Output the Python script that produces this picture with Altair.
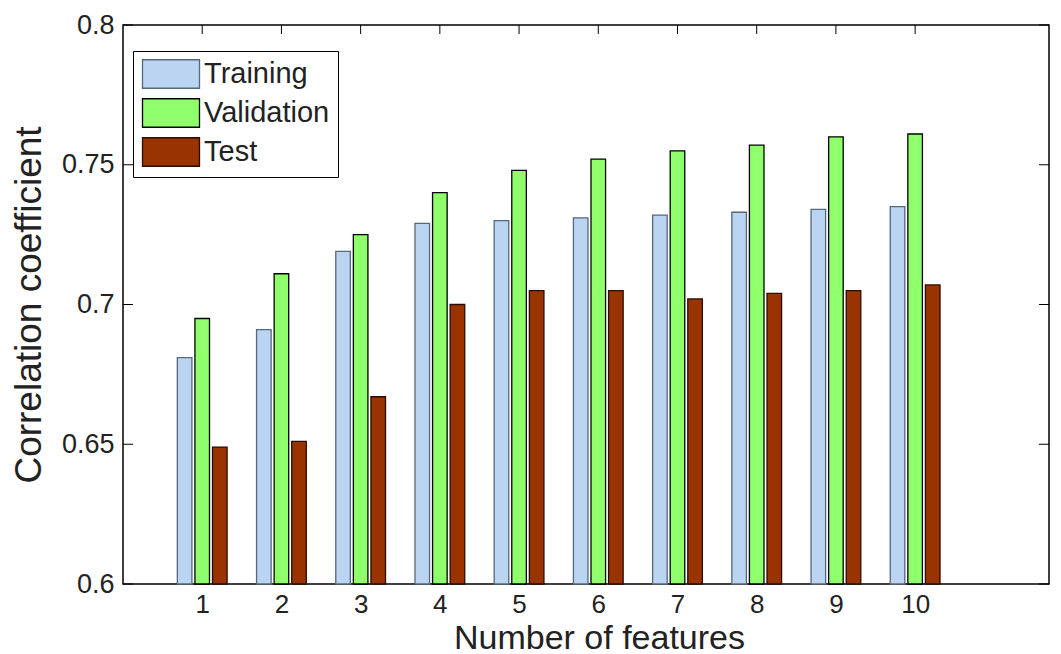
import altair as alt
import pandas as pd

features = list(range(1, 11))
training = [0.681, 0.691, 0.719, 0.729, 0.730, 0.731, 0.732, 0.733, 0.734, 0.735]
validation = [0.695, 0.711, 0.725, 0.740, 0.748, 0.752, 0.755, 0.757, 0.760, 0.761]
test = [0.649, 0.651, 0.667, 0.700, 0.705, 0.705, 0.702, 0.704, 0.705, 0.707]
series = ["Training", "Validation", "Test"]
fills = ["#bad4f2", "#8fff6c", "#993300"]
strokes = ["#56687c", "#000000", "#2a0c00"]
y_ticks = [0.6, 0.65, 0.7, 0.75, 0.8]

rows = []
for i, f in enumerate(features):
    for k, vals in enumerate([training, validation, test]):
        rows.append({"feature": f, "series": series[k], "value": vals[i], "slot": k})
df = pd.DataFrame(rows)

W, H = 926, 559
XDOM = [0, 11.69]
YDOM = [0.6, 0.8]
FONT = "Liberation Sans"

xscale = alt.Scale(domain=XDOM, nice=False, zero=False)
yscale = alt.Scale(domain=YDOM, nice=False, zero=False)

bars = alt.Chart(df).transform_calculate(
    x0="datum.feature + (datum.slot - 1) * 0.222 - 0.092",
    x1="datum.feature + (datum.slot - 1) * 0.222 + 0.092",
).mark_bar(strokeWidth=1.3).encode(
    x=alt.X("x0:Q", scale=xscale,
            axis=alt.Axis(values=features, format="d", title="Number of features",
                          grid=False, ticks=False, tickSize=0, domain=False,
                          labelFontSize=26, labelPadding=7, titleFontSize=34,
                          titlePadding=4, titleX=476, labelColor="#222",
                          titleColor="#222", labelFont=FONT, titleFont=FONT,
                          titleFontWeight="normal")),
    x2="x1:Q",
    y=alt.Y("value:Q", scale=yscale,
            axis=alt.Axis(values=y_ticks, format="~g", title="Correlation coefficient",
                          grid=False, ticks=False, tickSize=0, domain=False,
                          labelFontSize=27, labelPadding=9, titleFontSize=37,
                          titlePadding=13, labelColor="#222", titleColor="#222",
                          labelFont=FONT, titleFont=FONT, titleFontWeight="normal")),
    y2=alt.datum(0.6),
    fill=alt.Fill("series:N", scale=alt.Scale(domain=series, range=fills),
                  legend=alt.Legend(title=None, orient="none", legendX=10, legendY=26,
                                    fillColor="white", strokeColor="black",
                                    padding=8, labelFontSize=29, labelFont=FONT,
                                    labelColor="#222",
                                    symbolType="M-2,-1H2V1H-2Z", symbolSize=812,
                                    symbolOffset=15,
                                    symbolStrokeColor="black", symbolStrokeWidth=1.3,
                                    rowPadding=5, labelOffset=18)),
    stroke=alt.Stroke("series:N", scale=alt.Scale(domain=series, range=strokes),
                      legend=None),
)

tick_df = pd.DataFrame({"value": y_ticks})
feat_df = pd.DataFrame({"x0": features})

left_ticks = alt.Chart(tick_df).mark_rule(color="black", strokeWidth=1).encode(
    y=alt.Y("value:Q", scale=yscale), x=alt.value(0), x2=alt.value(10))
right_ticks = alt.Chart(tick_df).mark_rule(color="black", strokeWidth=1).encode(
    y=alt.Y("value:Q", scale=yscale), x=alt.value(W - 10), x2=alt.value(W))
top_ticks = alt.Chart(feat_df).mark_rule(color="black", strokeWidth=1).encode(
    x=alt.X("x0:Q", scale=xscale), y=alt.value(0), y2=alt.value(9))

chart = alt.layer(bars, left_ticks, right_ticks, top_ticks).properties(
    width=W, height=H,
    padding={"left": 2, "top": 3, "right": 0, "bottom": 0},
).configure(font=FONT).configure_view(stroke="black", strokeWidth=1.5)

chart.save("out.html", embed_options={"renderer": "svg", "actions": False})
